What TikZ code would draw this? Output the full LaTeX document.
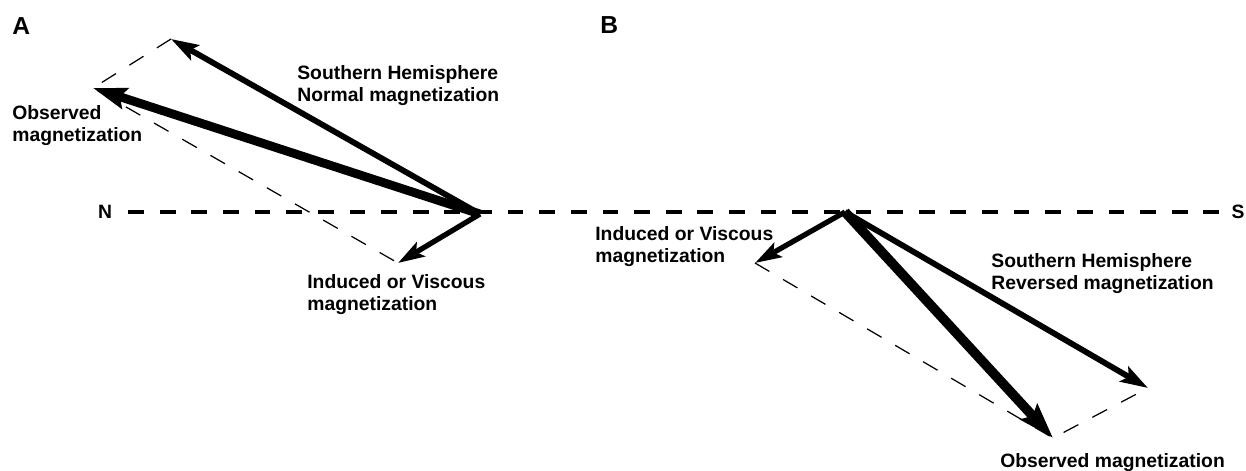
\documentclass[tikz,border=0pt]{standalone}
\usepackage{fontspec}
\setmainfont{Liberation Sans}
\usetikzlibrary{arrows.meta}
\tikzset{
    vec/.style={line width=#1, -{Stealth[length=9pt 2, width=5pt 1.4, inset=3pt]}},
    axisline/.style={line width=2.7pt, dash pattern=on 9pt off 9pt},
    guide/.style={line width=0.7pt, dash pattern=on 9.5pt off 9pt},
    lbl/.style={font=\bfseries\fontsize{11}{12.5}\selectfont, align=left, inner sep=0pt, anchor=north west},
    panel/.style={font=\bfseries\fontsize{14}{16}\selectfont, inner sep=0pt, anchor=north west},
}

\begin{document}
\begin{tikzpicture}[x=0.02cm, y=-0.02cm]
        \useasboundingbox (0,0) rectangle (1246,470);

        \node[panel] (pa) at (12,17) {A};
        \node[panel] (pb) at (600,16) {B};

        \node[font=\bfseries\fontsize{11}{13}\selectfont, inner sep=0pt] (north) at (105,212) {N};
        \node[font=\bfseries\fontsize{11}{13}\selectfont, inner sep=0pt] (south) at (1238,212) {S};
        \draw[axisline, shorten <=9pt, shorten >=7pt] (north.east) -- (south.west);

        % A
        \coordinate (oa) at (480,214);
        \coordinate (na) at (171,39);
        \coordinate (obsa) at (93,88);
        \coordinate (ia) at (398,263);

        \draw[guide] (na) -- (obsa) -- (ia);
        \draw[vec=3.3pt] (oa) -- (na);
        \draw[vec=5pt] (oa) -- (obsa);
        \draw[vec=3pt] (oa) -- (ia);

        \node[lbl] (normtxt) at (297,65) {Southern Hemisphere\\Normal magnetization};
        \node[lbl] (obsatxt) at (12,105) {Observed\\magnetization};
        \node[lbl] (iatxt) at (307,274) {Induced or Viscous\\magnetization};

        % B
        \coordinate (ob) at (845,212);
        \coordinate (rb) at (1148,388);
        \coordinate (obsb) at (1053,438);
        \coordinate (ib) at (755,263);

        \draw[guide] (ib) -- (obsb) -- (rb);
        \draw[vec=3pt] (ob) -- (ib);
        \draw[vec=3.3pt] (ob) -- (rb);
        \draw[vec=5.5pt] (ob) -- (obsb);

        \node[lbl] (ibtxt) at (595,226) {Induced or Viscous\\magnetization};
        \node[lbl] (revtxt) at (991,253) {Southern Hemisphere\\Reversed magnetization};
        \node[lbl] (obsbtxt) at (1000,453) {Observed magnetization};
\end{tikzpicture}
\end{document}
